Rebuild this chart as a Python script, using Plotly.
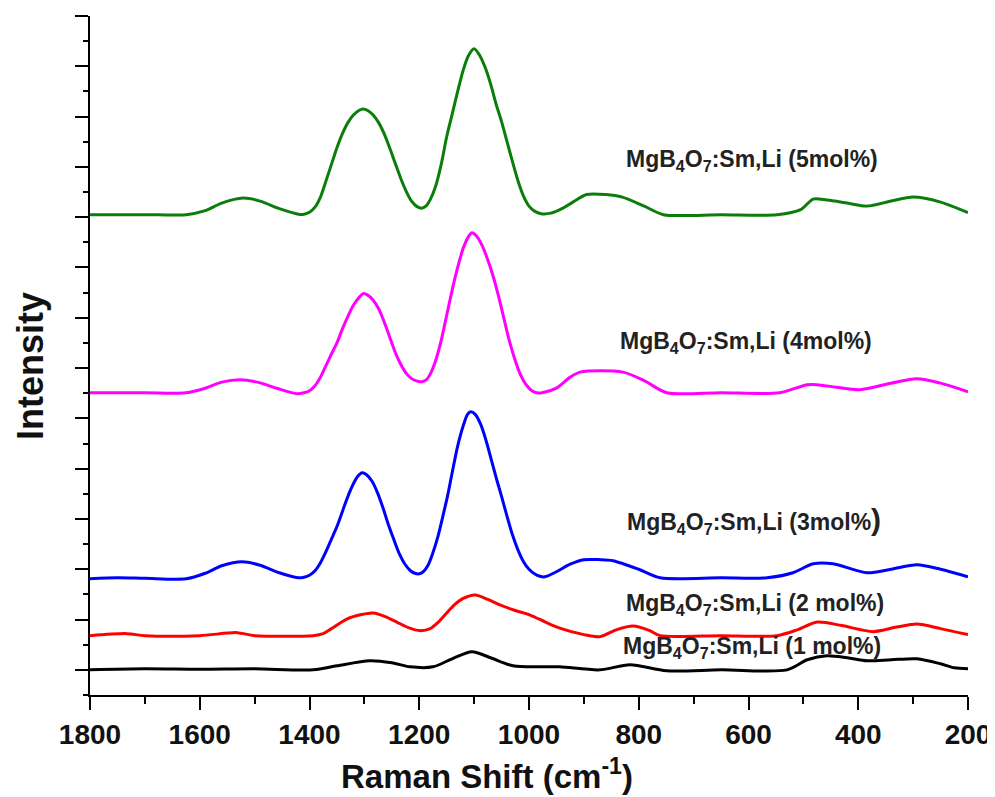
import plotly.graph_objects as go

# Raman shift (cm^-1) and intensities (arbitrary, offset)
x_5 = [1800, 1700, 1625, 1590, 1560, 1521, 1490, 1455, 1420, 1410, 1400, 1390, 1380, 1370, 1360, 1350,
       1340, 1330, 1320, 1310, 1302, 1294, 1284, 1274, 1264, 1254, 1244, 1234, 1224, 1214, 1204, 1196,
       1188, 1180, 1170, 1160, 1150, 1140, 1130, 1120, 1110, 1100, 1090, 1080, 1070, 1060, 1050, 1040,
       1030, 1020, 1010, 1000, 990, 978, 960, 940, 920, 895, 860, 830, 790, 755, 650, 548, 505, 482,
       457, 420, 384, 340, 300, 250, 200]
y_5 = [9.05, 9.05, 9.05, 9.13, 9.28, 9.38, 9.32, 9.17, 9.06, 9.06, 9.10, 9.20, 9.40, 9.72, 10.05, 10.38,
       10.66, 10.88, 11.03, 11.12, 11.15, 11.12, 11.03, 10.88, 10.66, 10.38, 10.08, 9.78, 9.52, 9.32, 9.21, 9.18,
       9.22, 9.35, 9.62, 10.05, 10.60, 11.05, 11.50, 11.92, 12.22, 12.35, 12.22, 11.98, 11.65, 11.25, 10.90, 10.50,
       10.10, 9.72, 9.42, 9.22, 9.12, 9.07, 9.08, 9.17, 9.30, 9.45, 9.45, 9.40, 9.22, 9.05, 9.05, 9.05, 9.15, 9.36,
       9.34, 9.28, 9.22, 9.32, 9.40, 9.30, 9.09]

x_4 = [1800, 1700, 1625, 1590, 1560, 1527, 1495, 1460, 1423, 1410, 1400, 1390, 1380, 1370, 1360, 1350,
       1340, 1330, 1320, 1310, 1302, 1294, 1284, 1274, 1264, 1254, 1244, 1234, 1224, 1214, 1204, 1196,
       1188, 1180, 1170, 1160, 1150, 1140, 1130, 1120, 1110, 1104, 1096, 1086, 1076, 1066, 1056, 1046,
       1036, 1026, 1016, 1006, 996, 986, 976, 950, 925, 907, 829, 790, 749, 650, 543, 493, 475, 440,
       397, 340, 293, 250, 200]
y_4 = [5.51, 5.51, 5.51, 5.60, 5.72, 5.77, 5.72, 5.60, 5.49, 5.51, 5.55, 5.65, 5.82, 6.05, 6.28, 6.50,
       6.78, 7.03, 7.25, 7.40, 7.48, 7.45, 7.35, 7.18, 6.92, 6.62, 6.32, 6.08, 5.90, 5.79, 5.74, 5.73,
       5.76, 5.88, 6.15, 6.55, 7.05, 7.55, 8.00, 8.38, 8.62, 8.69, 8.63, 8.45, 8.18, 7.85, 7.45, 7.00,
       6.55, 6.18, 5.88, 5.68, 5.56, 5.51, 5.51, 5.60, 5.82, 5.92, 5.92, 5.75, 5.51, 5.51, 5.51, 5.67, 5.67, 5.62,
       5.57, 5.70, 5.79, 5.70, 5.53]

x_3 = [1800, 1750, 1700, 1625, 1590, 1560, 1523, 1490, 1455, 1421, 1410, 1400, 1390, 1380, 1370, 1360,
       1350, 1340, 1330, 1320, 1312, 1304, 1296, 1286, 1276, 1266, 1256, 1246, 1236, 1226, 1216, 1208,
       1200, 1192, 1184, 1176, 1166, 1156, 1148, 1140, 1130, 1120, 1112, 1106, 1098, 1088, 1078, 1068,
       1058, 1050, 1040, 1030, 1020, 1010, 1000, 990, 980, 971, 950, 925, 900, 870, 847, 800, 761, 650,
       566, 519, 482, 446, 384, 340, 293, 250, 200]
y_3 = [1.81, 1.83, 1.82, 1.81, 1.92, 2.07, 2.15, 2.08, 1.93, 1.83, 1.84, 1.88, 1.97, 2.13, 2.35, 2.60,
       2.85, 3.15, 3.45, 3.70, 3.85, 3.92, 3.88, 3.75, 3.52, 3.22, 2.88, 2.58, 2.30, 2.10, 1.97, 1.92,
       1.91, 1.96, 2.08, 2.30, 2.65, 3.10, 3.48, 3.92, 4.45, 4.85, 5.08, 5.13, 5.08, 4.88, 4.55, 4.15,
       3.75, 3.45, 3.05, 2.68, 2.38, 2.15, 2.00, 1.91, 1.86, 1.85, 1.95, 2.10, 2.19, 2.19, 2.17, 2.00, 1.83, 1.83,
       1.83, 1.93, 2.11, 2.11, 1.93, 2.00, 2.09, 2.00, 1.85]

x_2 = [1800, 1733, 1700, 1600, 1532, 1500, 1393, 1375, 1360, 1332, 1305, 1284, 1262, 1241, 1220, 1199,
       1180, 1165, 1150, 1135, 1120, 1098, 1075, 1053, 1025, 998, 970, 944, 900, 871, 840, 810, 780, 761,
       650, 548, 510, 475, 430, 373, 330, 293, 250, 200]
y_2 = [0.68, 0.72, 0.68, 0.68, 0.74, 0.68, 0.68, 0.72, 0.82, 1.01, 1.10, 1.13, 1.06, 0.95, 0.84, 0.78,
       0.82, 0.95, 1.13, 1.30, 1.42, 1.49, 1.40, 1.29, 1.18, 1.09, 0.95, 0.83, 0.70, 0.66, 0.80, 0.87, 0.78, 0.68,
       0.68, 0.68, 0.80, 0.95, 0.88, 0.76, 0.85, 0.91, 0.82, 0.70]

x_1 = [1800, 1700, 1600, 1500, 1393, 1350, 1290, 1250, 1217, 1175, 1140, 1104, 1070, 1029, 980, 944,
       871, 816, 749, 650, 530, 493, 457, 420, 384, 340, 293, 250, 225, 200]
y_1 = [0.00, 0.02, 0.01, 0.02, 0.00, 0.08, 0.18, 0.14, 0.06, 0.06, 0.22, 0.36, 0.24, 0.08, 0.06, 0.06,
       0.00, 0.10, -0.02, 0.00, 0.00, 0.20, 0.28, 0.24, 0.18, 0.20, 0.22, 0.12, 0.04, 0.02]

series = [
    ("5mol%", x_5, y_5, "#0b7d0b"),
    ("4mol%", x_4, y_4, "#ff00ff"),
    ("3mol%", x_3, y_3, "#0000ff"),
    ("2 mol%", x_2, y_2, "#ff0000"),
    ("1 mol%", x_1, y_1, "#000000"),
]

label_text = [
    "MgB<sub>4</sub>O<sub>7</sub>:Sm,Li (5mol%)",
    "MgB<sub>4</sub>O<sub>7</sub>:Sm,Li (4mol%)",
    "MgB<sub>4</sub>O<sub>7</sub>:Sm,Li (3mol%<span style='font-size:30px'>)</span>",
    "MgB<sub>4</sub>O<sub>7</sub>:Sm,Li (2 mol%)",
    "MgB<sub>4</sub>O<sub>7</sub>:Sm,Li (1 mol%)",
]
label_x = [594, 604, 590, 588, 594]
label_y = [10.12, 6.50, 2.96, 1.29, 0.44]

x_title = "<b>Raman Shift (cm<sup>-1</sup>)</b>"
y_title = "<b>Intensity</b>"

FONT = "Arial, Liberation Sans, sans-serif"

fig = go.Figure()
for name, xs, ys, col in series:
    fig.add_trace(go.Scatter(x=xs, y=ys, mode="lines", name=name,
                             line=dict(color=col, width=3, shape="spline", smoothing=0.8)))

for t, lx, ly in zip(label_text, label_x, label_y):
    fig.add_annotation(x=lx, y=ly, xref="x", yref="y", text="<b>" + t + "</b>", showarrow=False,
                       font=dict(family=FONT, size=23, color="#222222"))

# axis titles (placed as in the reference, x title sits left of centre)
fig.add_annotation(x=0.452, y=-0.117, xref="paper", yref="paper", text=x_title, showarrow=False,
                   xanchor="center", yanchor="middle", font=dict(family=FONT, size=33, color="#111111"))
fig.add_annotation(x=-0.068, y=0.485, xref="paper", yref="paper", text=y_title, showarrow=False,
                   textangle=-90, xanchor="center", yanchor="middle",
                   font=dict(family=FONT, size=36, color="#111111"))

fig.update_layout(
    width=987, height=789,
    margin=dict(l=82, r=27, t=8, b=102),
    paper_bgcolor="white", plot_bgcolor="white",
    showlegend=False,
    font=dict(family=FONT, color="#111111"),
)
fig.update_xaxes(
    range=[1800, 200], tickvals=[1800, 1600, 1400, 1200, 1000, 800, 600, 400, 200],
    automargin=False,
    showgrid=False, zeroline=False, showline=True, linecolor="black", linewidth=2,
    ticks="outside", ticklen=13, tickwidth=2, tickcolor="black",
    minor=dict(ticks="outside", ticklen=7, tickwidth=2, tickcolor="black", dtick=100, tick0=200, showgrid=False),
    tickfont=dict(family=FONT, size=28, color="#111111", weight="bold"),
)
fig.update_yaxes(
    range=[-0.5, 13], dtick=1, tick0=0, showticklabels=False, automargin=False,
    showgrid=False, zeroline=False, showline=True, linecolor="black", linewidth=2,
    ticks="outside", ticklen=13, tickwidth=2, tickcolor="black",
    minor=dict(ticks="outside", ticklen=5, tickwidth=2, tickcolor="black", dtick=0.5, tick0=0.5, showgrid=False),
)

fig.write_html("out.html")
